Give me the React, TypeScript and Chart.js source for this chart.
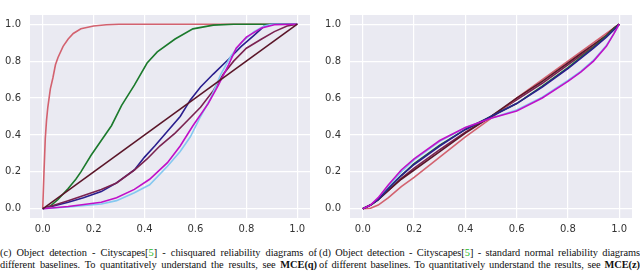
import React, { useEffect, useRef } from "react";
import { Chart, registerables } from "chart.js";

Chart.register(...registerables);

const tickValues = [0, 0.2, 0.4, 0.6, 0.8, 1.0];

// Left panel (chi-squared reliability)
const L_redX = [0, 0.005, 0.01, 0.015, 0.02, 0.03, 0.04, 0.05, 0.06, 0.08, 0.1, 0.12, 0.15, 0.2, 0.25, 0.3, 0.5, 0.7, 1.0];
const L_redY = [0, 0.2, 0.38, 0.48, 0.55, 0.65, 0.71, 0.78, 0.82, 0.88, 0.92, 0.95, 0.975, 0.99, 0.997, 1.0, 1.0, 1.0, 1.0];
const L_greenX = [0, 0.03, 0.06, 0.1, 0.13, 0.15, 0.19, 0.23, 0.27, 0.31, 0.36, 0.41, 0.45, 0.52, 0.59, 0.67, 0.75, 1.0];
const L_greenY = [0, 0.015, 0.05, 0.11, 0.16, 0.2, 0.29, 0.37, 0.45, 0.56, 0.67, 0.79, 0.85, 0.92, 0.975, 0.995, 1.0, 1.0];
const L_diagX = [0, 1];
const L_diagY = [0, 1];
const L_blueX = [0, 0.1, 0.16, 0.23, 0.29, 0.36, 0.4, 0.44, 0.49, 0.54, 0.58, 0.62, 0.67, 0.73, 0.78, 0.83, 0.87, 0.9, 1.0];
const L_blueY = [0, 0.035, 0.06, 0.093, 0.14, 0.21, 0.28, 0.34, 0.42, 0.5, 0.59, 0.66, 0.73, 0.81, 0.88, 0.94, 0.99, 1.0, 1.0];
const L_plumX = [0, 0.1, 0.23, 0.29, 0.36, 0.41, 0.46, 0.52, 0.57, 0.62, 0.67, 0.71, 0.75, 0.8, 0.86, 0.91, 0.96, 1.0];
const L_plumY = [0, 0.044, 0.105, 0.14, 0.21, 0.27, 0.34, 0.41, 0.48, 0.55, 0.64, 0.73, 0.8, 0.87, 0.92, 0.96, 0.99, 1.0];
const L_skyX = [0, 0.1, 0.23, 0.29, 0.36, 0.42, 0.49, 0.54, 0.58, 0.62, 0.66, 0.7, 0.74, 0.78, 0.83, 0.87, 0.9, 1.0];
const L_skyY = [0, 0.01, 0.026, 0.044, 0.087, 0.13, 0.23, 0.31, 0.39, 0.5, 0.6, 0.73, 0.83, 0.9, 0.96, 0.99, 1.0, 1.0];
const L_magX = [0, 0.1, 0.23, 0.29, 0.36, 0.42, 0.49, 0.54, 0.59, 0.65, 0.69, 0.73, 0.76, 0.8, 0.86, 0.91, 1.0];
const L_magY = [0, 0.012, 0.035, 0.06, 0.105, 0.16, 0.25, 0.34, 0.45, 0.57, 0.67, 0.78, 0.87, 0.93, 0.98, 0.997, 1.0];

// Right panel (standard normal reliability)
const R_x = [0, 0.03, 0.06, 0.1, 0.15, 0.2, 0.3, 0.4, 0.5, 0.6, 0.7, 0.8, 0.85, 0.9, 0.95, 0.98, 1.0];
const R_redY = [0, 0.003, 0.02, 0.06, 0.12, 0.17, 0.28, 0.39, 0.49, 0.6, 0.7, 0.8, 0.85, 0.9, 0.95, 0.98, 1.0];
const R_diagY = [0, 0.02, 0.05, 0.1, 0.16, 0.21, 0.31, 0.41, 0.5, 0.6, 0.69, 0.79, 0.84, 0.89, 0.94, 0.98, 1.0];
const R_plumY = [0, 0.02, 0.05, 0.1, 0.165, 0.22, 0.32, 0.415, 0.5, 0.59, 0.68, 0.78, 0.83, 0.88, 0.935, 0.975, 1.0];
const R_greenY = [0, 0.02, 0.05, 0.11, 0.18, 0.245, 0.345, 0.43, 0.5, 0.57, 0.665, 0.765, 0.82, 0.875, 0.935, 0.975, 1.0];
const R_blueY = [0, 0.02, 0.05, 0.11, 0.18, 0.24, 0.34, 0.43, 0.5, 0.57, 0.66, 0.76, 0.815, 0.87, 0.93, 0.97, 1.0];
const R_skyY = [0, 0.02, 0.055, 0.12, 0.2, 0.265, 0.365, 0.44, 0.49, 0.535, 0.605, 0.695, 0.745, 0.805, 0.885, 0.95, 1.0];
const R_magY = [0, 0.02, 0.06, 0.13, 0.21, 0.27, 0.37, 0.44, 0.49, 0.53, 0.6, 0.69, 0.74, 0.8, 0.88, 0.95, 1.0];

const COLORS = {
  red: "#d3626f",
  green: "#1b7a2c",
  diag: "#5a1528",
  blue: "#2a1e8e",
  plum: "#7a2250",
  sky: "#84c8f0",
  mag: "#c010c8",
};

const pts = (xs: number[], ys: number[]) => xs.map((x, i) => ({ x, y: ys[i] }));

const bgPlugin = {
  id: "bgFill",
  beforeDraw(chart: any) {
    const { ctx, chartArea } = chart;
    ctx.save();
    ctx.fillStyle = "#EAEAF2";
    ctx.fillRect(chartArea.left, chartArea.top, chartArea.right - chartArea.left, chartArea.bottom - chartArea.top);
    ctx.restore();
  },
};

function ds(data: { x: number; y: number }[], color: string) {
  return {
    data,
    borderColor: color,
    backgroundColor: color,
    borderWidth: 1.6,
    pointRadius: 0,
    showLine: true,
    fill: false,
    tension: 0,
  };
}

function makeOptions(padRight: number) {
  const font = { family: "'DejaVu Sans', sans-serif", size: 10 };
  const setTicks = (scale: any) => {
    scale.ticks = tickValues.map((v) => ({ value: v }));
  };
  return {
    responsive: false,
    animation: false as const,
    layout: { padding: { left: 0, right: padRight, top: 8, bottom: 0 } },
    plugins: { legend: { display: false }, tooltip: { enabled: false }, title: { display: false } },
    scales: {
      x: {
        type: "linear" as const,
        min: -0.05,
        max: 1.05,
        afterBuildTicks: setTicks,
        afterFit: (s: any) => { s.height = 22; },
        grid: { color: "#ffffff", lineWidth: 1.2, drawTicks: false },
        border: { display: false },
        ticks: { font, color: "#333333", padding: 5, callback: (v: any) => Number(v).toFixed(1), maxRotation: 0 },
      },
      y: {
        type: "linear" as const,
        min: -0.05,
        max: 1.05,
        afterBuildTicks: setTicks,
        afterFit: (s: any) => { s.width = 30; },
        grid: { color: "#ffffff", lineWidth: 1.2, drawTicks: false },
        border: { display: false },
        ticks: { font, color: "#333333", padding: 9, callback: (v: any) => Number(v).toFixed(1) },
      },
    },
  };
}

function Panel({ datasets, padRight, left }: { datasets: any[]; padRight: number; left: number }) {
  const ref = useRef<HTMLCanvasElement>(null);
  useEffect(() => {
    if (!ref.current) return;
    const chart = new Chart(ref.current, {
      type: "scatter",
      data: { datasets },
      options: makeOptions(padRight) as any,
      plugins: [bgPlugin],
    });
    return () => chart.destroy();
  }, []);
  return (
    <canvas
      ref={ref}
      width={320}
      height={240}
      style={{ position: "absolute", left, top: 0, width: 320, height: 240 }}
    />
  );
}

const leftDatasets = [
  ds(pts(L_diagX, L_diagY), COLORS.diag),
  ds(pts(L_magX, L_magY), COLORS.mag),
  ds(pts(L_skyX, L_skyY), COLORS.sky),
  ds(pts(L_plumX, L_plumY), COLORS.plum),
  ds(pts(L_blueX, L_blueY), COLORS.blue),
  ds(pts(L_greenX, L_greenY), COLORS.green),
  ds(pts(L_redX, L_redY), COLORS.red),
];

const rightDatasets = [
  ds(pts(R_x, R_magY), COLORS.mag),
  ds(pts(R_x, R_blueY), COLORS.blue),
  ds(pts(R_x, R_greenY), COLORS.green),
  ds(pts(R_x, R_diagY), COLORS.diag),
  ds(pts(R_x, R_redY), COLORS.red),
  ds(pts(R_x, R_plumY), COLORS.plum),
  ds(pts(R_x, R_skyY), COLORS.sky),
];

const capLine: React.CSSProperties = {
  position: "absolute",
  fontFamily: "'Liberation Serif', 'Times New Roman', serif",
  fontSize: 10.4,
  letterSpacing: -0.05,
  lineHeight: "12px",
  color: "#111",
  textAlign: "justify",
  textAlignLast: "justify" as any,
  whiteSpace: "normal",
  overflow: "hidden",
  height: 12,
};

const cite = <span style={{ color: "#1fb81f" }}>5</span>;

export default function App() {
  useEffect(() => {
    document.body.style.margin = "0";
  }, []);
  return (
    <div style={{ position: "absolute", left: 0, top: 0, width: 640, height: 271, background: "#fff", overflow: "hidden" }}>
      <Panel datasets={leftDatasets} padRight={10} left={0} />
      <Panel datasets={rightDatasets} padRight={8} left={320} />
      <div style={{ ...capLine, left: 0, top: 247, width: 317 }}>
        (c) Object detection - Cityscapes[{cite}] - chisquared reliability diagrams of
      </div>
      <div style={{ ...capLine, left: 0, top: 259, width: 317 }}>
        different baselines. To quantitatively understand the results, see <b>MCE(q)</b>
      </div>
      <div style={{ ...capLine, left: 319, top: 247, width: 321 }}>
        (d) Object detection - Cityscapes[{cite}] - standard normal reliability diagrams
      </div>
      <div style={{ ...capLine, left: 319, top: 259, width: 321 }}>
        of different baselines. To quantitatively understand the results, see <b>MCE(z)</b>
      </div>
    </div>
  );
}
